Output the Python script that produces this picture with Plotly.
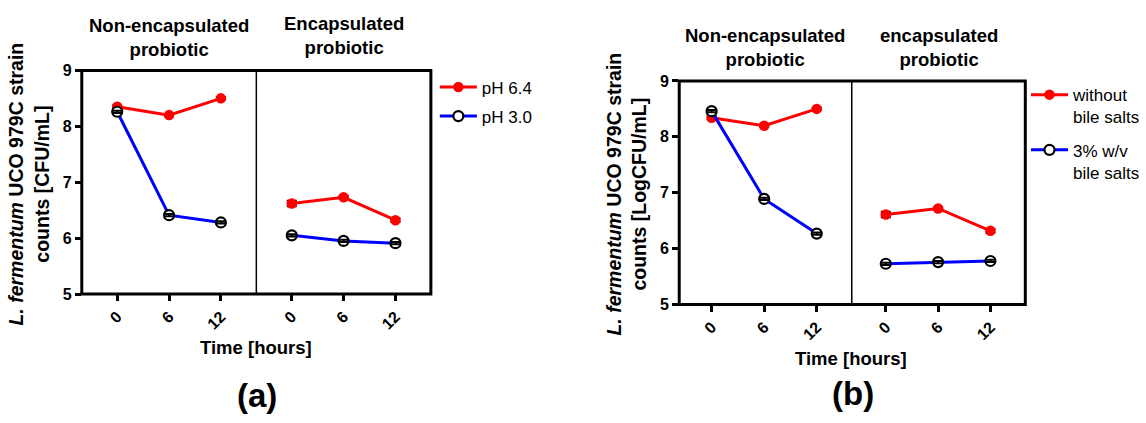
import plotly.graph_objects as go

# ---------------- data ----------------
hours = [0, 6, 12]
tick_labels = ["0", "6", "12"]

# (a) pH assay
a_non_ph64 = [8.35, 8.20, 8.50]
a_non_ph64_sd = [0.02, 0.02, 0.02]
a_non_ph30 = [8.26, 6.41, 6.28]
a_non_ph30_sd = [0.02, 0.02, 0.02]
a_enc_ph64 = [6.62, 6.73, 6.32]
a_enc_ph64_sd = [0.05, 0.02, 0.03]
a_enc_ph30 = [6.05, 5.95, 5.91]
a_enc_ph30_sd = [0.02, 0.02, 0.02]

# (b) bile salts assay
b_non_ctrl = [8.34, 8.20, 8.50]
b_non_ctrl_sd = [0.03, 0.02, 0.02]
b_non_bile = [8.46, 6.89, 6.27]
b_non_bile_sd = [0.02, 0.02, 0.02]
b_enc_ctrl = [6.61, 6.72, 6.32]
b_enc_ctrl_sd = [0.05, 0.02, 0.03]
b_enc_bile = [5.73, 5.76, 5.78]
b_enc_bile_sd = [0.02, 0.02, 0.02]

legend_a = ["pH 6.4", "pH 3.0"]
legend_b = ["without<br>bile salts", "3% w/v<br>bile salts"]

# ---------------- styling ----------------
W, H = 1146, 423
FONT = "Liberation Sans, Arial, sans-serif"
RED = "#FF0000"
BLUE = "#0000FF"


def px(x):
    return x / W


def py(y):
    return 1 - y / H


def add_series(fig, y, sd, xa, ya, kind, name, legend, show):
    if kind == "red":
        marker = dict(symbol="circle", size=10.5, color=RED, line=dict(width=0))
        line = dict(color=RED, width=3)
    else:
        marker = dict(symbol="circle", size=10, color="white",
                      line=dict(width=2.2, color="black"))
        line = dict(color=BLUE, width=3)
    err = dict(type="data", array=sd, visible=True,
               color="black", thickness=2, width=5)
    fig.add_trace(go.Scatter(
        x=hours, y=y, mode="lines+markers", name=name,
        xaxis=xa, yaxis=ya, marker=marker, line=line, error_y=err,
        showlegend=show, legend=legend, legendgroup=name + legend,
        hoverinfo="x+y",
    ))
    if kind == "blue":
        # error caps drawn on top of the open circles
        fig.add_trace(go.Scatter(
            x=hours, y=y, mode="markers", xaxis=xa, yaxis=ya,
            marker=dict(size=1, opacity=0), error_y=err,
            showlegend=False, hoverinfo="skip",
        ))


fig = go.Figure()

# panel (a)
add_series(fig, a_non_ph64, a_non_ph64_sd, "x", "y", "red", legend_a[0], "legend", True)
add_series(fig, a_enc_ph64, a_enc_ph64_sd, "x2", "y", "red", legend_a[0], "legend", False)
add_series(fig, a_non_ph30, a_non_ph30_sd, "x", "y", "blue", legend_a[1], "legend", True)
add_series(fig, a_enc_ph30, a_enc_ph30_sd, "x2", "y", "blue", legend_a[1], "legend", False)
# panel (b)
add_series(fig, b_non_ctrl, b_non_ctrl_sd, "x3", "y2", "red", legend_b[0], "legend2", True)
add_series(fig, b_enc_ctrl, b_enc_ctrl_sd, "x4", "y2", "red", legend_b[0], "legend2", False)
add_series(fig, b_non_bile, b_non_bile_sd, "x3", "y2", "blue", legend_b[1], "legend2", True)
add_series(fig, b_enc_bile, b_enc_bile_sd, "x4", "y2", "blue", legend_b[1], "legend2", False)

tickfont = dict(family=FONT, size=16, color="black", weight="bold")


def xaxis(domain, anchor, rng):
    return dict(domain=domain, anchor=anchor, range=rng,
                tickvals=hours, ticktext=tick_labels, ticks="outside",
                ticklen=6, tickwidth=3, tickcolor="black", tickangle=-45,
                tickfont=tickfont, showline=False, showgrid=False,
                zeroline=False, fixedrange=True)


def yaxis(domain, anchor):
    return dict(domain=domain, anchor=anchor, range=[5, 9], dtick=1,
                tick0=5, ticks="outside", ticklen=6, tickwidth=3,
                tickcolor="black", tickfont=tickfont, showline=False,
                showgrid=False, zeroline=False, fixedrange=True)


# panel geometry (pixels)
aL, aM, aR, aT, aB = 82, 257, 432, 65, 298
bL, bM, bR, bT, bB = 681, 854, 1028, 76, 309

legend_font = dict(family=FONT, size=17, color="black")
fig.update_layout(
    width=W, height=H, autosize=False,
    margin=dict(l=0, r=0, t=0, b=0),
    paper_bgcolor="white", plot_bgcolor="rgba(0,0,0,0)",
    font=dict(family=FONT, color="black"),
    xaxis=xaxis([px(aL), px(aM)], "y", [-4.1, 16.1]),
    xaxis2=xaxis([px(aM), px(aR)], "y", [-4.1, 16.1]),
    xaxis3=xaxis([px(bL), px(bM)], "y2", [-3.7, 16.0]),
    xaxis4=xaxis([px(bM), px(bR)], "y2", [-3.9, 16.0]),
    yaxis=yaxis([py(aB), py(aT)], "x"),
    yaxis2=yaxis([py(bB), py(bT)], "x3"),
    legend=dict(x=px(436), y=py(64), xanchor="left", yanchor="top",
                font=legend_font, bgcolor="rgba(0,0,0,0)",
                tracegroupgap=4, itemwidth=37),
    legend2=dict(x=px(1029), y=py(72), xanchor="left", yanchor="top",
                 font=legend_font, bgcolor="rgba(0,0,0,0)",
                 tracegroupgap=8, itemwidth=37, valign="top"),
)

shapes = []
for L, M, R, T, B in [(aL, aM, aR, aT, aB), (bL, bM, bR, bT, bB)]:
    shapes.append(dict(type="rect", xref="paper", yref="paper",
                       x0=px(L), x1=px(R), y0=py(B), y1=py(T),
                       line=dict(color="black", width=3), layer="above"))
    shapes.append(dict(type="line", xref="paper", yref="paper",
                       x0=px(M), x1=px(M), y0=py(B), y1=py(T),
                       line=dict(color="black", width=1.5), layer="above"))
fig.update_layout(shapes=shapes)

bold_t = dict(family=FONT, size=18.5, color="black", weight="bold")
bold_y = dict(family=FONT, size=19.5, color="black", weight="bold")
ann = [
    dict(text="Non-encapsulated<br>probiotic", x=px((aL + aM) / 2), y=py(31), font=bold_t),
    dict(text="Encapsulated<br>probiotic", x=px((aM + aR) / 2), y=py(29), font=bold_t),
    dict(text="Non-encapsulated<br>probiotic", x=px((bL + bM) / 2), y=py(41), font=bold_t),
    dict(text="encapsulated<br>probiotic", x=px((bM + bR) / 2), y=py(41), font=bold_t),
    dict(text="Time [hours]", x=px(257), y=py(354), font=bold_t),
    dict(text="Time [hours]", x=px(853), y=py(365), font=bold_t),
    dict(text="<i>L. fermentum</i> UCO 979C strain<br>counts [CFU/mL]",
         x=px(29), y=py(183), textangle=-90, font=bold_y),
    dict(text="<i>L. fermentum</i> UCO 979C strain<br>counts [LogCFU/mL]",
         x=px(628), y=py(194), textangle=-90, font=bold_y),
]
for a in ann:
    fig.add_annotation(xref="paper", yref="paper", showarrow=False,
                       xanchor="center", yanchor="middle", **a)

for txt, x, y in [("(a)", 258, 404), ("(b)", 855, 402)]:
    fig.add_annotation(text=txt, xref="paper", yref="paper", x=px(x), y=py(y),
                       showarrow=False, xanchor="center", yanchor="middle",
                       font=dict(family=FONT, size=33, color="black", weight="bold"))

fig.write_html("out.html", config={"displayModeBar": False},
               post_script="document.body.style.margin='0';")
